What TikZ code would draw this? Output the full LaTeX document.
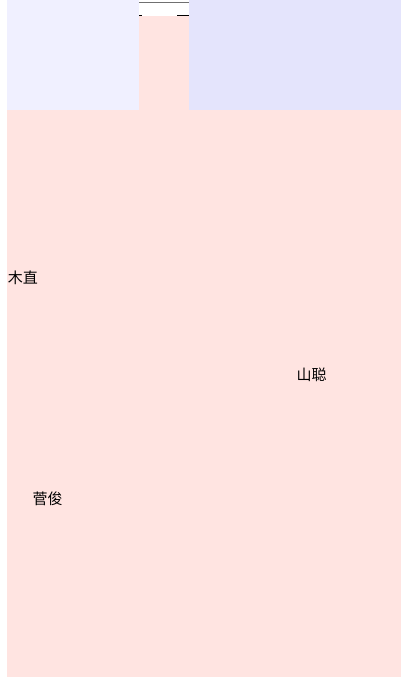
\documentclass[tikz,border=0pt]{standalone}
\usepackage{fontspec}
\newfontfamily\cjk{Noto Sans CJK SC}
\definecolor{bgpink}{HTML}{FFE4E1}
\definecolor{boxa}{HTML}{F0F0FF}
\definecolor{boxb}{HTML}{E4E4FC}
\definecolor{edgegray}{HTML}{707070}
\tikzset{
  lbl/.style={font=\cjk\fontsize{15}{18}\selectfont, inner sep=0pt, text=black},
}
\begin{document}
\begin{tikzpicture}[x=1pt,y=-1pt]
\useasboundingbox (0,0) rectangle (401,677);
\fill[white] (0,0) rectangle (401,677);
% top lines
\draw[edgegray, line width=1pt] (139,2.5) -- (189,2.5);
\draw[black, line width=1pt] (139,15.5) -- (142,15.5);
\draw[black, line width=1pt] (177,15.5) -- (189,15.5);
\draw[black, line width=1pt] (7.5,0) -- (7.5,3);
\draw[edgegray, line width=1pt] (399,2.5) -- (401,2.5);
% background
\fill[bgpink] (7,16) rectangle (401,677);
% boxes
\fill[boxa] (7,0) rectangle (139,110);
\fill[boxb] (189,0) rectangle (401,110);
% labels
\node[lbl] (a) at (23,278) {木直};
\node[lbl] (b) at (311.5,375) {山聪};
\node[lbl] (c) at (47.5,499) {菅俊};
\end{tikzpicture}
\end{document}
